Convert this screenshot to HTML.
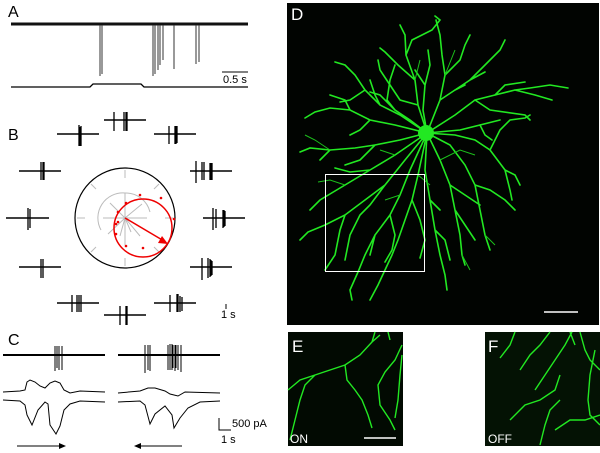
<!DOCTYPE html>
<html><head><style>
body{margin:0;background:#fff;width:600px;height:453px;overflow:hidden}
svg{display:block}
text{font-family:"Liberation Sans",sans-serif}
</style></head><body>
<svg width="600" height="453" viewBox="0 0 600 453">
<!-- Panel A -->
<text x="8" y="17" font-size="16">A</text>
<path d="M11 24 L248 24" stroke="#111" stroke-width="3"/>
<g stroke="#333" stroke-width="1">
<path d="M100 25V76 M102 25V74 M153 25V76 M155 25V74 M158 25V70 M160 25V65 M163 25V60 M174 25V69 M196 25V64 M199 25V62"/>
</g>
<path d="M11 87 L90 87 L93 84 L141 84 L144 87 L248 87" stroke="#000" fill="none" stroke-width="1.3"/>
<path d="M222 72H248" stroke="#000" stroke-width="1"/>
<text x="223" y="83" font-size="11">0.5 s</text>

<!-- Panel B -->
<text x="8" y="140" font-size="16">B</text>
<circle cx="125" cy="218" r="50" fill="none" stroke="#000" stroke-width="1.2"/>
<g stroke="#bbb" stroke-width="1" fill="none">
<path d="M125 170V178 M125 258V266 M77 218H85 M165 218H173 M91 184l5 5 M159 184l-5 5 M91 252l5-5 M159 252l-5-5"/>
<path d="M125 218L125 193 M125 218L142 204 M125 218L147 218 M125 218L140 236 M125 218L125 245 M125 218L108 234 M125 218L103 218 M125 218L110 203 M125 218L131 232 M125 218L120 236"/>
<path d="M101 230 A25 25 0 0 1 125 193 A25 25 0 0 1 150 212"/>
</g>
<circle cx="143" cy="228" r="29" fill="none" stroke="#e00" stroke-width="1.5"/>
<path d="M125 218L164 241" stroke="#e00" stroke-width="1.5"/>
<path d="M168 244L158 243L162 236Z" fill="#e00"/>
<g fill="#e00"><circle cx="140" cy="195" r="1.3"/><circle cx="161" cy="198" r="1.3"/><circle cx="174" cy="219" r="1.3"/><circle cx="118" cy="212" r="1.3"/><circle cx="116" cy="224" r="1.3"/><circle cx="118" cy="222" r="1.3"/><circle cx="116" cy="234" r="1.3"/><circle cx="126" cy="246" r="1.3"/><circle cx="143" cy="248" r="1.3"/><circle cx="126" cy="203" r="1.3"/></g>
<g stroke="#000" fill="none">
<g stroke-width="1.5">
<path d="M104 120H146 M57 134H99 M154 134H196 M19 171H61 M190 171H232 M6 218H49 M203 218H245 M19 267H61 M190 267H232 M57 303H99 M154 303H196 M104 315H146"/>
</g>
<g stroke-width="1.3">
<path d="M114 112V131 M124 112V131 M126 112V131 M127 112V131"/>
<path d="M79 125V146 M80 127V146 M81 126V146"/>
<path d="M169 126V144 M175 126V144 M176 126V144 M177 126V143"/>
<path d="M41 162V180 M43 162V180 M44 162V180"/>
<path d="M196 161V183 M202 162V180 M204 162V180 M210 163V180 M211 163V180 M212 163V180"/>
<path d="M28 208V230 M30 209V228"/>
<path d="M213 208V230 M216 209V228 M223 210V228 M224 210V227 M225 211V226"/>
<path d="M41 259V278 M43 259V278"/>
<path d="M202 258V280 M208 258V278 M210 259V277 M211 260V276 M212 261V275"/>
<path d="M72 295V312 M77 295V312 M79 295V312 M81 295V312"/>
<path d="M170 295V312 M177 294V312 M178 294V312 M180 296V312 M182 297V311"/>
<path d="M120 306V325 M126 306V325 M127 306V325"/>
</g>
</g>
<path d="M226 304V309" stroke="#000"/>
<text x="221" y="318" font-size="11">1 s</text>

<!-- Panel C -->
<text x="8" y="345" font-size="16">C</text>
<path d="M3 355H105 M118 355H220" stroke="#000" stroke-width="2"/>
<g stroke="#000" stroke-width="1">
<path d="M55 346V371 M57 346V368 M59 346V370 M62 346V370 M145 345V373 M148 345V370 M150 345V371 M168 345V370 M170 344V370 M172 344V370 M173 345V368 M175 345V371 M176 345V368 M178 345V370 M181 345V372"/>
</g>
<g stroke="#000" stroke-width="1" fill="none">
<path d="M3 392 L20 391 L25 390 L27 382 L30 380 L35 382 L40 386 L45 388 L50 383 L55 381 L60 383 L64 390 L70 393 L80 391 L105 392"/>
<path d="M3 400 L20 401 L25 405 L27 415 L32 425 L38 410 L45 402 L48 404 L50 425 L56 434 L60 426 L64 410 L70 404 L80 401 L105 402"/>
<path d="M118 393 L140 391 L148 388 L155 388 L165 391 L170 394 L178 396 L185 392 L220 393"/>
<path d="M118 402 L140 401 L145 405 L150 424 L155 414 L165 406 L172 415 L174 428 L180 418 L188 408 L200 402 L220 401"/>
</g>
<path d="M219 418V430H231" stroke="#000" fill="none"/>
<text x="232" y="427" font-size="11">500 pA</text>
<text x="221" y="443" font-size="11">1 s</text>
<path d="M17 446H63" stroke="#000"/><path d="M66 446L59 443V449Z"/>
<path d="M137 446H182" stroke="#000"/><path d="M134 446L141 443V449Z"/>

<!-- Panel D -->
<rect x="287" y="3" width="312" height="322" fill="#010401"/>
<text x="291" y="20" font-size="17" fill="#fff">D</text>
<g stroke="#22e822" stroke-width="1.6" fill="none" stroke-linecap="round">
<path d="M427 133 L418 105 L415 80 L406 55 L405 35 L400 25 M415 80 L398 65 L385 52 L380 48 M406 55 L412 40 L432 30 L440 20 L435 16 M418 105 L400 100 L390 85 L380 70 L378 60"/>
<path d="M427 133 L440 100 L445 75 L442 55 L440 35 L436 20 M445 75 L460 60 L465 45 L470 35 M440 100 L455 90 L470 80 L480 70 L490 60 L500 50 L505 40 M470 80 L485 72 M455 90 L465 85"/>
<path d="M427 133 L455 115 L475 100 L495 95 L515 90 L530 88 L550 85 L568 88 M495 95 L505 85 L525 82 M515 90 L535 95 L552 100 M475 100 L490 110 L525 115 L530 120"/>
<path d="M427 133 L400 115 L380 105 L365 90 L355 75 L345 65 L335 62 M380 105 L375 95 L370 80 M365 90 L350 100 L340 102"/>
<path d="M427 133 L395 125 L370 120 L350 110 L330 108 L315 112 L305 118 M370 120 L360 130 L350 135 M350 110 L345 100 L330 95"/>
<path d="M427 133 L400 140 L375 145 L355 148 L330 150 L310 148 L300 152 M375 145 L360 160 L345 165 M330 150 L320 160"/>
<path d="M427 133 L395 155 L370 170 L345 185 L320 200 L310 210 M370 170 L350 172 L335 168"/>
<path d="M427 133 L405 160 L385 185 L365 200 L345 215 L325 225 L308 232 L300 240 M385 185 L370 205 L360 215 L350 235 L345 260 M345 215 L340 230 L335 255 L325 270"/>
<path d="M427 133 L410 170 L400 195 L390 215 L375 235 L365 255 L358 272 L350 290 L352 300 M390 215 L395 235 L392 250 L385 262 M375 235 L370 255"/>
<path d="M427 133 L418 175 L412 200 L405 220 L398 240 L392 255 L385 270 L378 285 L370 300 M412 200 L420 220 L425 240 L420 258"/>
<path d="M427 133 L425 170 L430 200 L435 230 L440 255 L445 275 L447 290 M435 230 L445 240 L450 260 M430 200 L440 210"/>
<path d="M427 133 L440 160 L450 185 L455 210 L460 235 L462 255 L465 265 M455 210 L465 225 L475 240 M450 185 L465 195 L480 205"/>
<path d="M427 133 L450 145 L465 165 L475 185 L480 210 L485 235 L490 250 M475 185 L490 190 L505 200 L515 210"/>
<path d="M427 133 L455 135 L475 140 L490 150 L505 170 L510 190 L512 200 M490 150 L500 130 L510 120 L525 118 L530 115 M505 170 L515 175 L520 185"/>
<path d="M427 133 L460 130 L480 125 L500 120 M480 125 L485 135 L492 140"/>
<path d="M427 133 L423 110 L425 85 L430 65 L428 50 M425 85 L415 70"/>
<path d="M427 133 L410 120 L395 110 L387 100 L390 80 L395 65 M395 110 L380 95 L370 92"/>
</g>
<g stroke="#1cc01c" stroke-width="1" fill="none">
<path d="M330 150 L315 140 L305 135 M345 185 L330 180 L318 182 M395 155 L380 150 M440 160 L460 150 L475 155 M485 235 L495 245 M462 255 L470 270 M415 80 L420 60 M445 75 L455 50 M400 195 L385 200 M418 175 L430 185"/>
</g>
<circle cx="426" cy="133" r="8" fill="#22e822"/>
<rect x="325.5" y="174.5" width="99" height="97" fill="none" stroke="#fff" stroke-width="1"/>
<path d="M544 312H578" stroke="#fff" stroke-width="1.5"/>

<!-- Panel E -->
<rect x="288" y="332" width="115" height="114" fill="#020a02"/>
<g stroke="#22e822" stroke-width="1.4" fill="none">
<path d="M288 390 L300 380 L315 375 L330 370 L345 365 L360 355 L372 342 L375 332 M315 375 L305 385 L300 400 L295 420 L290 440 M345 365 L347 380 L355 390 L362 400 L368 415 L372 428 M372 342 L380 335 M388 332 L390 340"/>
<path d="M402 345 L395 360 L385 372 L378 385 L380 405 L390 420 L395 430 M402 355 L400 375 L398 400 L395 418"/>
</g>
<text x="290" y="443" font-size="12" fill="#fff">ON</text>
<path d="M364 438H396" stroke="#fff" stroke-width="1.5"/>
<text x="292" y="352" font-size="17" fill="#fff">E</text>

<!-- Panel F -->
<rect x="485" y="332" width="115" height="114" fill="#041204"/>
<g stroke="#22e822" stroke-width="1.4" fill="none">
<path d="M500 358 L510 345 L515 332 M520 370 L530 355 L540 345 L550 332 M535 390 L545 375 L555 360 L565 345 L572 332 M580 332 L585 350 L590 360 L600 370 M510 420 L525 405 L540 400 L555 390 L560 375 M540 445 L545 425 L550 410 L560 400 M595 350 L590 375 L588 400 L590 415 L600 425 M555 430 L570 420 L585 420 L600 415 M570 332 L575 345"/>
</g>
<text x="488" y="443" font-size="12" fill="#fff">OFF</text>
<text x="488" y="352" font-size="17" fill="#fff">F</text>
</svg>
</body></html>
